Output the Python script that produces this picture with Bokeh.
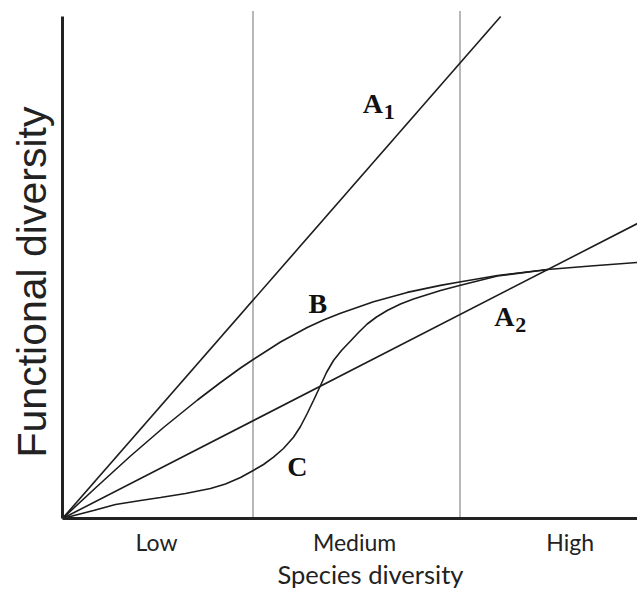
from bokeh.plotting import figure
from bokeh.models import Range1d, FixedTicker, Title, ColumnDataSource
from bokeh.core.properties import value
from bokeh.embed import file_html
from bokeh.resources import INLINE

# ---- data ----
a1_x = [0.0, 7.62]
a1_y = [0.0, 10.04]
a2_x = [0.0, 10.0]
a2_y = [0.0, 5.90]
b_x = [0.0, 0.591, 1.183, 1.757, 2.348, 2.748, 3.096, 3.317, 3.791, 4.256, 4.539, 4.835,
       5.409, 5.995, 6.574, 6.904, 7.565, 8.435, 9.183, 10.0]
b_y = [0.0, 0.63, 1.25, 1.82, 2.37, 2.72, 3.01, 3.18, 3.53, 3.82, 3.97, 4.104,
       4.334, 4.522, 4.662, 4.73, 4.86, 4.98, 5.05, 5.12]
c_x = [0.0, 0.539, 0.922, 1.357, 1.704, 2.139, 2.574, 2.835, 3.096, 3.317, 3.496, 3.670,
       3.843, 4.017, 4.139, 4.256, 4.365, 4.487, 4.591, 4.713, 4.852, 5.009, 5.148, 5.299,
       5.461, 5.647, 5.878, 6.104, 6.574, 6.904, 7.565, 8.313, 8.435]
c_y = [0.0, 0.16, 0.28, 0.36, 0.42, 0.50, 0.60, 0.69, 0.82, 0.96, 1.08, 1.226,
       1.40, 1.626, 1.84, 2.10, 2.36, 2.66, 2.92, 3.16, 3.36, 3.55, 3.72, 3.89,
       4.03, 4.16, 4.29, 4.39, 4.56, 4.66, 4.85, 4.96, 4.98]
dividers = [3.313, 6.913]
divider_top = 10.16
tick_pos = [1.635, 5.08, 8.83]
tick_labels = ["Low", "Medium", "High"]
curve_names = ["A", "A", "B", "C"]
curve_subs = ["1", "2", "", ""]
name_x = [5.22, 7.51, 4.28, 3.91]
name_y = [8.30, 4.04, 4.30, 1.04]
x_title = "Species diversity"
y_title = "Functional diversity"

p = figure(width=637, height=615, x_range=Range1d(0, 10), y_range=Range1d(0, 10.2),
           output_backend="svg", toolbar_location=None,
           min_border_left=62, min_border_right=0, min_border_top=8, min_border_bottom=97)
p.outline_line_color = None
p.grid.visible = False
p.background_fill_color = "white"
p.border_fill_color = "white"

line_col = "#1c1c1c"
p.segment(x0=dividers, y0=[0] * len(dividers), x1=dividers, y1=[divider_top] * len(dividers),
          line_color="#111111", line_width=1.2, line_dash="1 1")
p.line(a1_x, a1_y, line_color=line_col, line_width=1.6)
p.line(a2_x, a2_y, line_color=line_col, line_width=1.6)
p.line(b_x, b_y, line_color=line_col, line_width=1.6)
p.line(c_x, c_y, line_color=line_col, line_width=1.6)

src = ColumnDataSource(dict(x=name_x, y=name_y, t=curve_names, s=curve_subs))
p.text(x="x", y="y", text="t", source=src, text_font=value("Liberation Serif"),
       text_font_style="bold", text_font_size="28px", text_color="#111111",
       text_align="left", text_baseline="alphabetic")
p.text(x="x", y="y", text="s", source=src, text_font=value("Liberation Serif"),
       text_font_style="bold", text_font_size="22px", text_color="#111111",
       text_align="left", text_baseline="alphabetic", x_offset=21, y_offset=8)

xa = p.xaxis[0]
xa.ticker = FixedTicker(ticks=tick_pos)
xa.major_label_overrides = {t: l for t, l in zip(tick_pos, tick_labels)}
xa.major_tick_line_color = None
xa.minor_tick_line_color = None
xa.major_tick_out = 0
xa.major_tick_in = 0
xa.axis_line_width = 3
xa.axis_line_color = "#222222"
xa.major_label_text_font = "Lato"
xa.major_label_text_font_size = "23px"
xa.major_label_text_color = "#222222"
xa.major_label_standoff = 9

ya = p.yaxis[0]
ya.ticker = FixedTicker(ticks=[])
ya.major_tick_line_color = None
ya.minor_tick_line_color = None
ya.major_tick_out = 0
ya.major_tick_in = 0
ya.axis_line_width = 3
ya.axis_line_color = "#222222"
ya.bounds = (0, 10.04)

p.add_layout(Title(text=x_title, align="left", offset=215, vertical_align="top", standoff=0,
                   text_font="Lato", text_font_size="25.5px", text_font_style="normal",
                   text_color="#222222"), "below")
p.add_layout(Title(text=y_title, align="left", offset=61, vertical_align="middle", standoff=13,
                   text_font="Liberation Sans", text_font_size="41px", text_font_style="normal",
                   text_color="#222222"), "left")

open("out.html", "w").write(file_html(p, INLINE))
